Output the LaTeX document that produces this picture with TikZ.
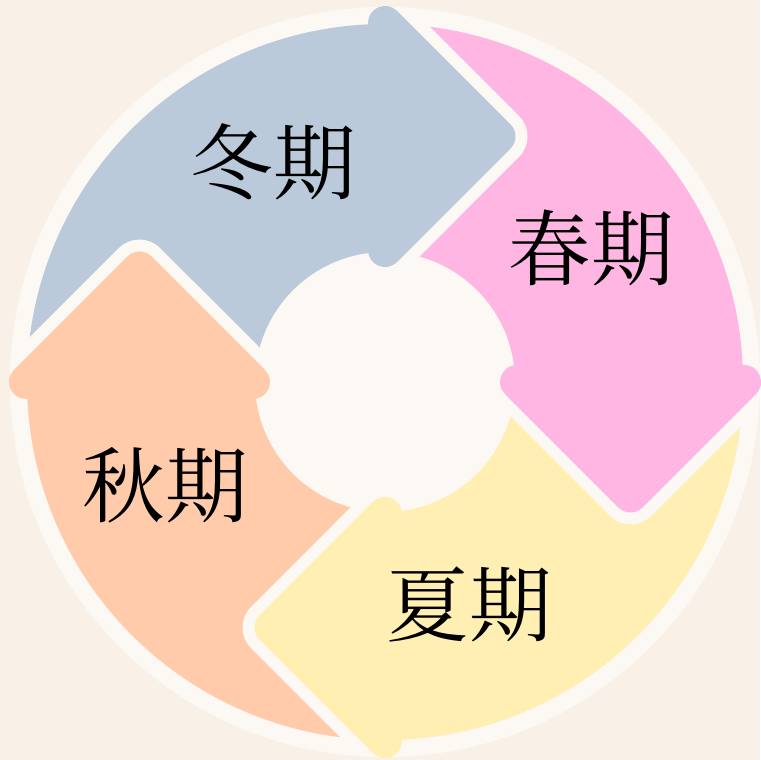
\documentclass[tikz,border=0pt]{standalone}
\usepackage{fontspec}
\newfontfamily\cjk{Noto Serif CJK JP}
\definecolor{bgbeige}{HTML}{F9F1E8}
\definecolor{disk}{HTML}{FCF8F3}
\definecolor{winter}{HTML}{BACADA}
\definecolor{spring}{HTML}{FFB6E2}
\definecolor{summer}{HTML}{FFEFB3}
\definecolor{autumn}{HTML}{FFCBAA}
\tikzset{
  gapline/.style={draw=disk,line width=0.58cm,line join=round},
  season/.style={fill=#1,draw=#1,line width=0.34cm,line join=round},
  seasontext/.style={align=center,inner sep=0pt,font=\cjk\fontsize{23.5}{28}\selectfont}
}
% one curved arrow, head on the ray at angle #1, pointing clockwise
\newcommand{\seasonpath}[1]{(#1+90:3.41) arc[start angle=#1+90,end angle=#1,radius=3.41]
  -- (#1:3.59) -- (#1-24.81:2.705) -- (#1:1.32) -- (#1:1.47)
  arc[start angle=#1,end angle=#1+90,radius=1.47] -- cycle}
\newcommand{\seasonarrow}[2]{%
  \begin{scope}\clip (0,0) circle (3.75); \path[gapline] \seasonpath{#1}; \end{scope}
  \path[season=#2] \seasonpath{#1};}

\begin{document}
\begin{tikzpicture}
\fill[bgbeige] (-3.85,-3.78) rectangle (3.75,3.82);
\useasboundingbox (-3.85,-3.78) rectangle (3.75,3.82);
\fill[disk] (0,0) circle (3.75);

\seasonarrow{180}{autumn}
\seasonarrow{-90}{summer}
\seasonarrow{0}{spring}
\seasonarrow{90}{winter}
% autumn head again, over the winter tail
\begin{scope}
\clip (-3.85,-0.6) rectangle (0,3.82);
\seasonarrow{180}{autumn}
\end{scope}

\node[seasontext] (0) at (-1.12,2.19) {冬期};
\node[seasontext] (1) at (2.06,1.34) {春期};
\node[seasontext] (2) at (0.84,-2.22) {夏期};
\node[seasontext] (3) at (-2.20,-1.03) {秋期};
\end{tikzpicture}
\end{document}
